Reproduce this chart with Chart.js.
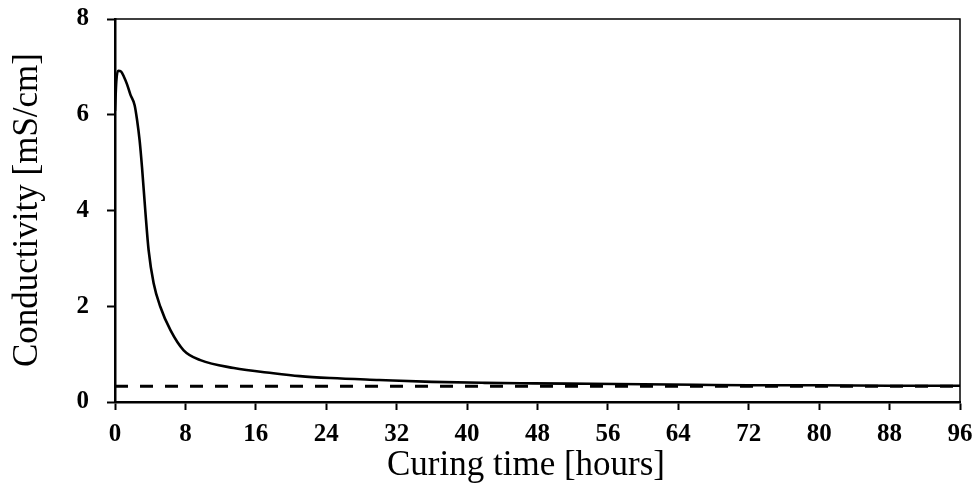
<!DOCTYPE html>
<html>
<head>
<meta charset="utf-8">
<script src="https://cdn.jsdelivr.net/npm/chart.js@4.4.1/dist/chart.umd.min.js"></script>
<style>
  html, body { margin: 0; padding: 0; background: #fff; }
  #wrap { width: 979px; height: 495px; }
</style>
</head>
<body>
<div id="wrap"><canvas id="chart" width="979" height="495"></canvas></div>
<script>
// conductivity curve
const curingHours = [0, 0.15, 0.35, 0.7, 1.0, 1.36, 1.75, 2.23, 2.5, 2.8, 3.07, 3.44, 3.82, 4.39, 5.15, 6.3, 7.8, 9.7, 13.5, 18, 21, 24.5, 30, 36, 42, 47.5, 54, 60, 66, 72, 80, 88, 96];
const conductivity = [6.08, 6.7, 6.92, 6.9, 6.8, 6.64, 6.42, 6.2, 5.9, 5.46, 4.9, 4.0, 3.17, 2.48, 1.99, 1.5, 1.08, 0.875, 0.71, 0.6, 0.54, 0.5, 0.46, 0.42, 0.4, 0.39, 0.38, 0.37, 0.36, 0.35, 0.35, 0.34, 0.34];

// dashed reference level
const refHours = [0, 96];
const refLevel = [0.33, 0.33];

const xTicks = [0, 8, 16, 24, 32, 40, 48, 56, 64, 72, 80, 88, 96];
const yTicks = [0, 2, 4, 6, 8];

const xTitle = "Curing time [hours]";
const yTitle = "Conductivity [mS/cm]";

const serif = "'Liberation Serif', 'Times New Roman', serif";

// top/right frame + axis titles
const framePlugin = {
  id: "frame",
  afterDraw(chart) {
    const { ctx, chartArea: a } = chart;
    ctx.save();
    ctx.strokeStyle = "#000";
    ctx.lineWidth = 1.5;
    ctx.beginPath();
    ctx.moveTo(a.left, a.top);
    ctx.lineTo(a.right, a.top);
    ctx.lineTo(a.right, a.bottom);
    ctx.stroke();

    ctx.fillStyle = "#000";
    ctx.font = "35px " + serif;
    ctx.textAlign = "center";
    ctx.textBaseline = "middle";
    ctx.fillText(xTitle, 526, 466);

    ctx.translate(28, 210);
    ctx.rotate(-Math.PI / 2);
    ctx.fillText(yTitle, 0, 0);
    ctx.restore();
  }
};

new Chart(document.getElementById("chart"), {
  type: "line",
  data: {
    datasets: [
      {
        data: curingHours.map((h, i) => ({ x: h, y: conductivity[i] })),
        borderColor: "#000",
        borderWidth: 2.6,
        pointRadius: 0,
        cubicInterpolationMode: "monotone",
        fill: false
      },
      {
        data: refHours.map((h, i) => ({ x: h, y: refLevel[i] })),
        borderColor: "#000",
        borderWidth: 3,
        borderDash: [13, 12],
        pointRadius: 0,
        fill: false
      }
    ]
  },
  options: {
    responsive: false,
    animation: false,
    layout: { padding: { left: 0, right: 19, top: 19, bottom: 0 } },
    plugins: { legend: { display: false }, tooltip: { enabled: false } },
    scales: {
      x: {
        type: "linear",
        min: 0,
        max: 96,
        afterBuildTicks: s => { s.ticks = xTicks.map(v => ({ value: v })); },
        afterFit: s => { s.height = 93; s.paddingLeft = 0; s.paddingRight = 0; },
        grid: { drawOnChartArea: false, drawTicks: true, tickLength: 8, tickWidth: 2, color: "#000" },
        border: { color: "#000", width: 2.5 },
        ticks: {
          color: "#000",
          padding: 10,
          maxRotation: 0,
          font: { family: serif, size: 25, weight: "bold" }
        }
      },
      y: {
        min: 0,
        max: 8,
        afterBuildTicks: s => { s.ticks = yTicks.map(v => ({ value: v })); },
        afterFit: s => { s.width = 115; s.paddingTop = 0; s.paddingBottom = 0; },
        grid: { drawOnChartArea: false, drawTicks: true, tickLength: 8, tickWidth: 2, color: "#000" },
        border: { color: "#000", width: 2.5 },
        ticks: {
          color: "#000",
          padding: 18,
          font: { family: serif, size: 25, weight: "bold" }
        }
      }
    }
  },
  plugins: [framePlugin]
});
</script>
</body>
</html>
